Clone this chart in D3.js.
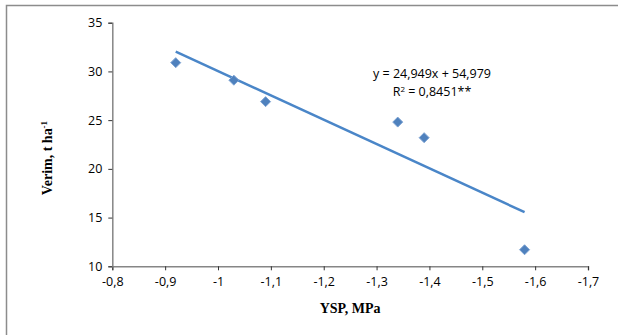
<!DOCTYPE html>
<html>
<head>
<meta charset="utf-8">
<script src="https://cdn.jsdelivr.net/npm/d3@7"></script>
<style>
  body { margin: 0; background: #fff; }
  svg text { fill: #000; }
</style>
</head>
<body>
<div id="chart"></div>
<script>
'use strict';

// data
var ysp = [-0.92, -1.03, -1.09, -1.34, -1.39, -1.58];
var verim = [30.9, 29.1, 26.9, 24.8, 23.2, 11.7];
var xTicks = [-0.8, -0.9, -1, -1.1, -1.2, -1.3, -1.4, -1.5, -1.6, -1.7];
var yTicks = [10, 15, 20, 25, 30, 35];
// trendline as printed on the chart
var slope = 24.949, intercept = 54.979;
var eqLabel = 'y = 24,949x + 54,979';
var r2Label = ['R', '2', ' = 0,8451**'];

var width = 627, height = 335;
var margin = { top: 22.7, right: 39, bottom: 68.7, left: 112.3 };
var plotW = width - margin.left - margin.right,
    plotH = height - margin.top - margin.bottom;

var blue = '#4F81BD';
var axisGrey = '#868686';
var labelFont = '"Open Sans", "Liberation Sans", sans-serif';

var svg = d3.select('#chart')
  .append('svg')
    .attr('width', width)
    .attr('height', height);

// outer frame (only top and left edges visible)
svg.append('path')
  .attr('d', 'M6.5,335 L6.5,5.5 L618,5.5')
  .style('fill', 'none')
  .style('stroke', '#8c8c8c')
  .style('stroke-width', 1.5);

var g = svg.append('g')
  .attr('transform', 'translate(' + margin.left + ',' + margin.top + ')');

var x = d3.scaleLinear().domain([-0.8, -1.7]).range([0, plotW]);
var y = d3.scaleLinear().domain([10, 35]).range([plotH, 0]);

var fmt = function(d) { return String(d).replace('.', ','); };

var xAxis = g.append('g')
  .attr('transform', 'translate(0,' + plotH + ')')
  .call(d3.axisBottom(x).tickValues(xTicks).tickFormat(fmt).tickSize(4).tickPadding(4));

var yAxis = g.append('g')
  .call(d3.axisLeft(y).tickValues(yTicks).tickSize(4).tickPadding(6));

[xAxis, yAxis].forEach(function(a) {
  a.select('.domain').style('stroke', axisGrey).style('stroke-width', 1.5);
  a.selectAll('.tick line').style('stroke', '#333').style('stroke-width', 1);
  a.selectAll('.tick text')
    .style('font-family', labelFont)
    .style('font-size', '12.5px')
    .style('fill', '#000');
});
xAxis.selectAll('.tick text').attr('dy', '0.9em');

// trendline
var xs = d3.extent(ysp);
g.append('line')
  .attr('x1', x(xs[1])).attr('y1', y(slope * xs[1] + intercept))
  .attr('x2', x(xs[0])).attr('y2', y(slope * xs[0] + intercept))
  .style('stroke', '#4A86C8')
  .style('stroke-width', 2.5);

// diamond markers
var points = ysp.map(function(v, i) { return { x: v, y: verim[i] }; });
g.selectAll('path.pt')
  .data(points)
  .enter()
  .append('path')
    .attr('class', 'pt')
    .attr('transform', function(d) {
      return 'translate(' + x(d.x) + ',' + y(d.y) + ')';
    })
    .attr('d', 'M0,-5 L5,0 L0,5 L-5,0 Z')
    .style('fill', blue)
    .style('stroke', '#7DA3D3')
    .style('stroke-width', 1);

// equation labels
svg.append('text')
  .attr('x', 432).attr('y', 78)
  .style('text-anchor', 'middle')
  .style('font-family', labelFont)
  .style('font-size', '12.5px')
  .text(eqLabel);

var r2 = svg.append('text')
  .attr('x', 432).attr('y', 95.5)
  .style('text-anchor', 'middle')
  .style('font-family', labelFont)
  .style('font-size', '12.5px');
r2.append('tspan').text(r2Label[0]);
r2.append('tspan').attr('dy', -4).style('font-size', '8px').text(r2Label[1]);
r2.append('tspan').attr('dy', 4).text(r2Label[2]);

// axis titles
svg.append('text')
  .attr('x', margin.left + plotW / 2).attr('y', 313)
  .style('text-anchor', 'middle')
  .style('font-family', '"Liberation Serif", "Times New Roman", serif')
  .style('font-weight', 'bold')
  .style('font-size', '14px')
  .text('YSP, MPa');

var yt = svg.append('text')
  .attr('transform', 'translate(52,158) rotate(-90)')
  .style('text-anchor', 'middle')
  .style('font-family', '"Liberation Serif", "Times New Roman", serif')
  .style('font-weight', 'bold')
  .style('font-size', '14px');
yt.append('tspan').text('Verim, t ha');
yt.append('tspan').attr('dy', -5).style('font-size', '9px').text('-1');
</script>
</body>
</html>
